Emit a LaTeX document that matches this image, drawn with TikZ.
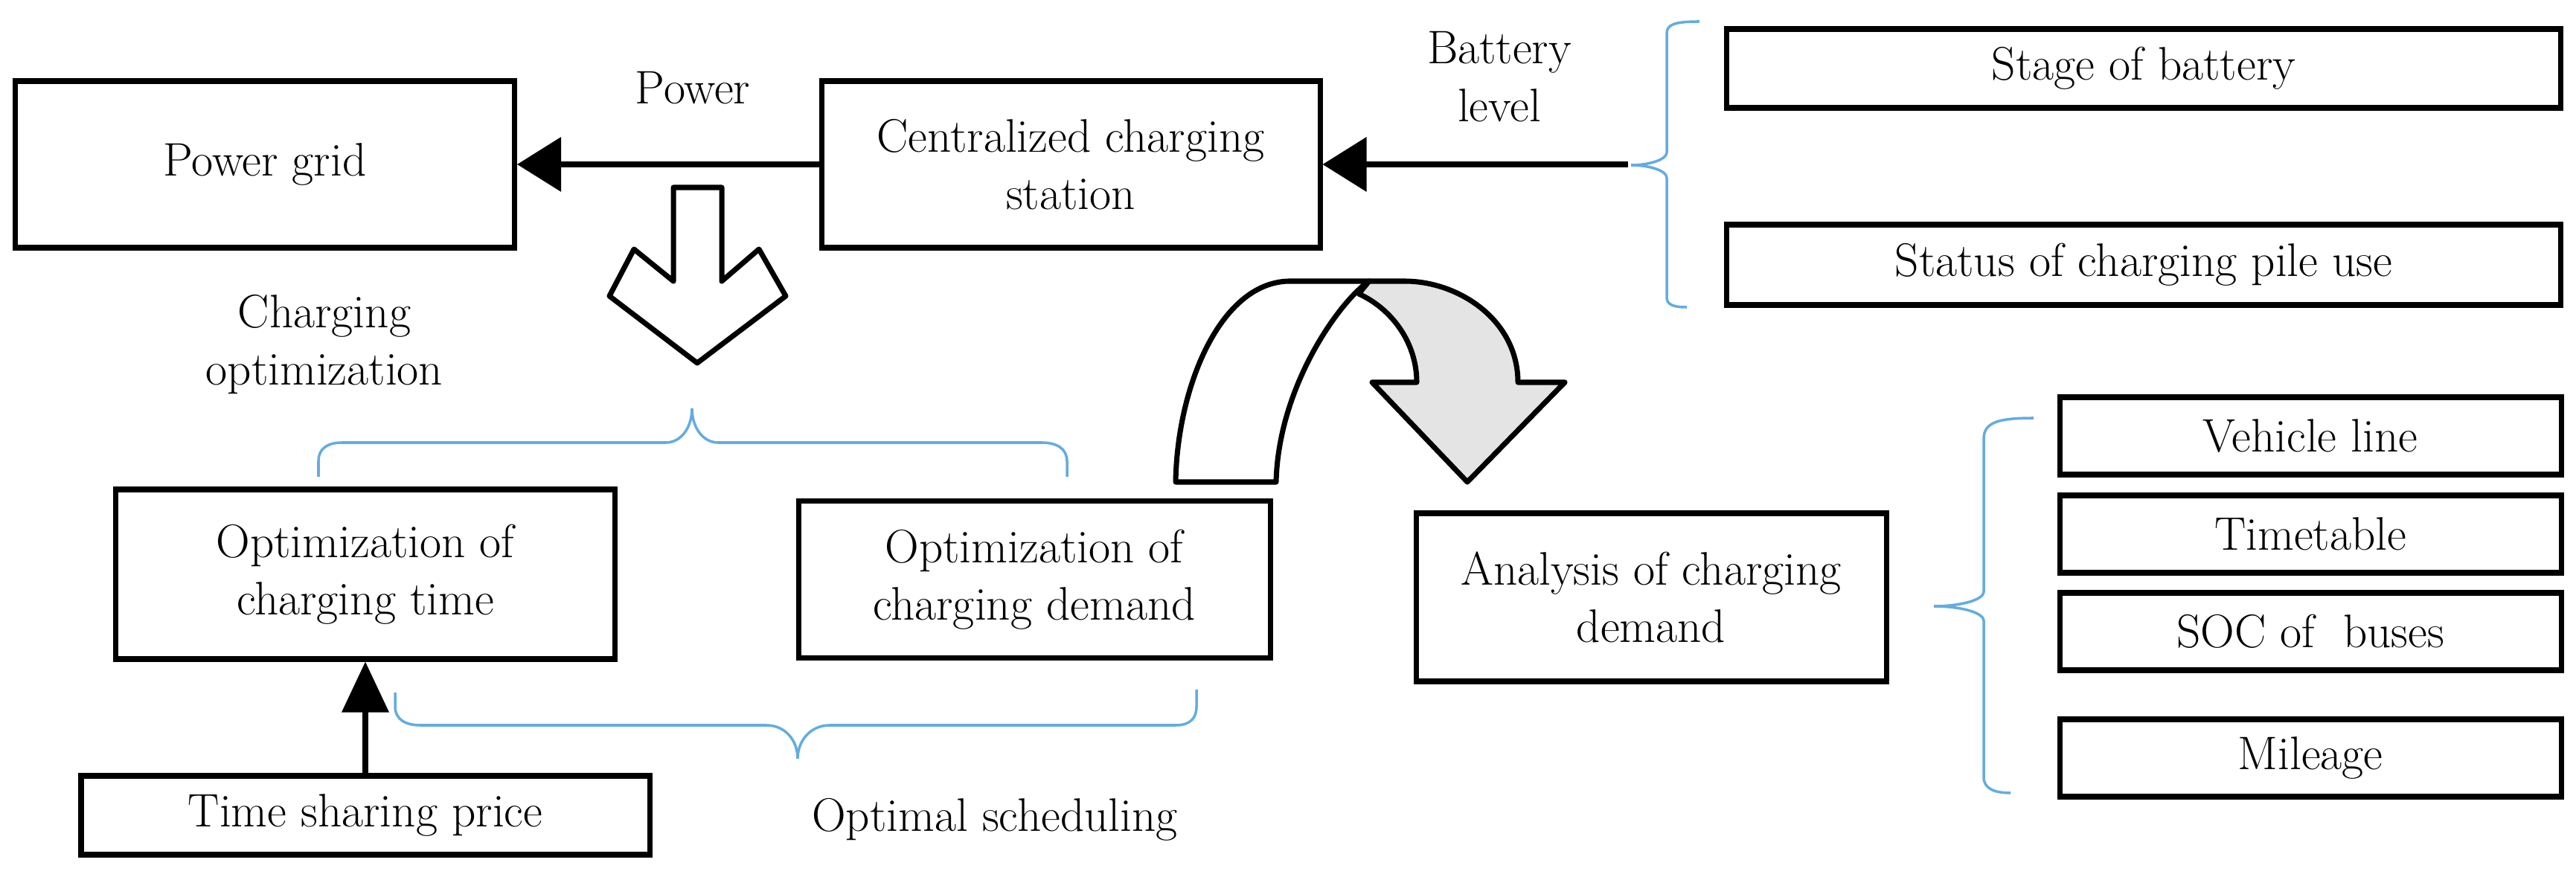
\documentclass[tikz,border=0pt]{standalone}
\usepackage{fontspec}
\usepackage{xcolor}
\usetikzlibrary{arrows.meta}
\definecolor{bracecol}{RGB}{100,172,224}
\definecolor{bendgray}{RGB}{228,228,228}

\begin{document}
\begin{tikzpicture}[
  box/.style={draw, line width=2pt, rectangle, align=center, inner sep=2pt,
              font=\fontsize{18}{22}\selectfont},
  lab/.style={align=center, inner sep=2pt, font=\fontsize{18}{22}\selectfont},
  ar/.style={-{Triangle[length=5.9mm, width=7.2mm]}, line width=2pt},
  arv/.style={-{Triangle[length=6.8mm, width=6.2mm]}, line width=2pt},
  brc/.style={draw=bracecol, line width=1pt},
  blk/.style={draw, line width=2pt, line join=round},
]
\useasboundingbox (0,0) rectangle (34.62,-11.79);
\node[box, minimum width=6.71cm, minimum height=2.24cm] (grid) at (3.56,-2.21) {Power grid};
\node[box, minimum width=6.70cm, minimum height=2.24cm] (ccs) at (14.39,-2.21) {Centralized charging\\station};
\node[box, minimum width=11.21cm, minimum height=1.06cm] (stage) at (28.81,-0.92) {Stage of battery};
\node[box, minimum width=11.21cm, minimum height=1.08cm] (pile) at (28.81,-3.56) {Status of charging pile use};
\node[box, minimum width=6.71cm, minimum height=2.28cm] (octime) at (4.91,-7.72) {Optimization of\\charging time};
\node[box, minimum width=6.34cm, minimum height=2.11cm] (ocdem) at (13.90,-7.79) {Optimization of\\charging demand};
\node[box, minimum width=7.64cm, minimum height=1.06cm] (price) at (4.91,-10.96) {Time sharing price};
\node[box, minimum width=6.32cm, minimum height=2.26cm] (anal) at (22.19,-8.03) {Analysis of charging\\demand};
\node[box, minimum width=6.74cm, minimum height=1.04cm] (line) at (31.05,-5.86) {Vehicle line};
\node[box, minimum width=6.74cm, minimum height=1.04cm] (table) at (31.05,-7.18) {Timetable};
\node[box, minimum width=6.74cm, minimum height=1.04cm] (soc) at (31.05,-8.49) {SOC of~ buses};
\node[box, minimum width=6.74cm, minimum height=1.04cm] (mile) at (31.05,-10.19) {Mileage};
\node[lab] (power) at (9.31,-1.18) {Power};
\node[lab] (batt) at (20.15,-1.03) {Battery\\level};
\node[lab] (chopt) at (4.36,-4.63) {Charging\\optimization};
\node[lab] (sched) at (13.37,-11.02) {Optimal scheduling};
\coordinate (bl) at (21.88,-2.21);
\draw[ar] (ccs.west) -- (grid.east);
\draw[ar] (bl) -- (ccs.east);
\draw[arv] (price.north) -- (octime.south);
\draw[blk, fill=white] (9.05,-2.52) -- (9.70,-2.52) -- (9.70,-3.78) -- (10.20,-3.35) -- (10.56,-3.98)
  -- (9.37,-4.88) -- (8.19,-3.98) -- (8.52,-3.35) -- (9.05,-3.78) -- cycle;
\draw[blk, fill=bendgray] (18.40,-3.78) -- (18.88,-3.78) .. controls (19.60,-3.78) and (20.40,-4.30) .. (20.40,-5.14)
  -- (21.03,-5.14) -- (19.72,-6.48) -- (18.44,-5.14) -- (19.04,-5.14)
  .. controls (19.04,-4.60) and (18.70,-4.15) .. (18.26,-3.95) -- cycle;
\draw[blk, fill=white] (15.80,-6.48) .. controls (15.82,-5.20) and (16.40,-3.80) .. (17.32,-3.78)
  -- (18.40,-3.78) .. controls (18.00,-4.05) and (17.18,-5.20) .. (17.15,-6.48) -- cycle;
\draw[brc] (22.84,-0.29) .. controls (22.50,-0.29) and (22.40,-0.33) .. (22.40,-0.45) -- (22.40,-2.05)
  .. controls (22.40,-2.15) and (22.15,-2.22) .. (21.92,-2.22) .. controls (22.15,-2.22) and (22.40,-2.29) .. (22.40,-2.39)
  -- (22.40,-4.00) .. controls (22.40,-4.10) and (22.50,-4.13) .. (22.67,-4.13);
\draw[brc] (4.28,-6.41) -- (4.28,-6.20) .. controls (4.28,-6.03) and (4.40,-5.95) .. (4.60,-5.95) -- (8.95,-5.95)
  .. controls (9.15,-5.95) and (9.30,-5.75) .. (9.30,-5.49) .. controls (9.30,-5.75) and (9.45,-5.95) .. (9.65,-5.95)
  -- (14.00,-5.95) .. controls (14.20,-5.95) and (14.34,-6.03) .. (14.34,-6.20) -- (14.34,-6.41);
\draw[brc] (5.31,-9.31) -- (5.31,-9.50) .. controls (5.31,-9.67) and (5.45,-9.75) .. (5.65,-9.75) -- (10.30,-9.75)
  .. controls (10.55,-9.75) and (10.72,-9.95) .. (10.72,-10.20) .. controls (10.72,-9.95) and (10.90,-9.75) .. (11.15,-9.75)
  -- (15.80,-9.75) .. controls (16.00,-9.75) and (16.08,-9.65) .. (16.08,-9.50) -- (16.08,-9.27);
\draw[brc] (27.33,-5.62) .. controls (26.85,-5.62) and (26.66,-5.68) .. (26.66,-5.90) -- (26.66,-7.95)
  .. controls (26.66,-8.08) and (26.30,-8.15) .. (25.99,-8.15) .. controls (26.30,-8.15) and (26.66,-8.22) .. (26.66,-8.35)
  -- (26.66,-10.45) .. controls (26.66,-10.60) and (26.80,-10.66) .. (27.02,-10.66);
\end{tikzpicture}
\end{document}
